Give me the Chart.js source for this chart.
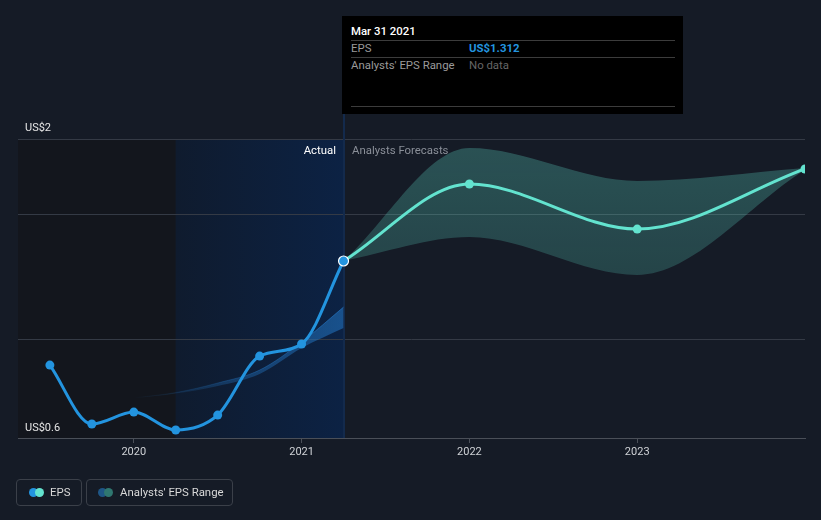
<!DOCTYPE html>
<html lang="en">
<head>
<meta charset="UTF-8">
<title>EPS Chart</title>
<script src="https://cdn.jsdelivr.net/npm/chart.js"></script>
<style>
  body { margin: 0; background: #151b26; font-family: Roboto, "Open Sans", sans-serif; }
  #wrap { position: relative; width: 821px; height: 520px; }
  canvas { position: absolute; left: 0; top: 0; }
  .tip { position: absolute; left: 342px; top: 16px; width: 341px; height: 98px; background: #000; font-size: 11.4px; }
  .tip .row { position: absolute; left: 9px; right: 8px; height: 16px; line-height: 16px; }
  .tip .sep { position: absolute; left: 9px; right: 8px; height: 1px; background: #3c3c3c; }
  .tip .lab { color: #9a9a9a; }
  .tip .val { position: absolute; left: 118px; top: 0; }
  .legend { position: absolute; top: 479px; height: 27px; border: 1px solid #3b4049; border-radius: 4px; box-sizing: border-box; font-size: 11.4px; color: #d8d8d8; line-height: 25px; }
  .dot { position: absolute; top: 8px; width: 9px; height: 9px; border-radius: 50%; }
</style>
</head>
<body>
<div id="wrap">
  <canvas id="eps-chart" width="821" height="520"></canvas>

  <!-- hovered point details -->
  <div class="tip">
    <div class="row" style="top:7px;color:#fff;font-weight:500">Mar 31 2021</div>
    <div class="sep" style="top:24px"></div>
    <div class="row lab" style="top:24px">EPS<span class="val" style="color:#2394df;font-weight:700">US$1.312</span></div>
    <div class="sep" style="top:41px"></div>
    <div class="row lab" style="top:41px">Analysts' EPS Range<span class="val" style="color:#666">No data</span></div>
    <div class="sep" style="top:90px"></div>
  </div>

  <div class="legend" style="left:16px;width:66px">
    <span class="dot" style="left:12px;background:#2394df"></span>
    <span class="dot" style="left:18px;background:#63e3cf"></span>
    <span style="position:absolute;left:33px">EPS</span>
  </div>
  <div class="legend" style="left:86px;width:147px">
    <span class="dot" style="left:11px;background:#1e5686"></span>
    <span class="dot" style="left:17px;background:#2f7770"></span>
    <span style="position:absolute;left:33px">Analysts' EPS Range</span>
  </div>
</div>

<script>
// data (x in decimal years)
const actualDates = [2019.5, 2019.75, 2020.0, 2020.25, 2020.5, 2020.75, 2021.0, 2021.25];
const epsActual = [0.725, 0.393, 0.460, 0.359, 0.443, 0.776, 0.844, 1.312];

const pastRangeDates = [2020.0, 2020.25, 2020.5, 2020.75, 2021.0, 2021.25];
const pastRangeHigh = [0.540, 0.570, 0.624, 0.697, 0.855, 1.052];
const pastRangeLow = [0.538, 0.565, 0.607, 0.675, 0.821, 0.934];

const forecastDates = [2021.25, 2022.0, 2023.0, 2024.0];
const epsForecast = [1.312, 1.746, 1.492, 1.831];
const forecastHigh = [1.312, 1.949, 1.763, 1.836];
const forecastLow = [1.312, 1.447, 1.233, 1.826];

const xTickValues = [2020, 2021, 2022, 2023];
const yGridValues = [2.0, 1.577, 0.872];
const yLabels = ['US$2', 'US$0.6'];

const X_MIN = 2019.31, X_MAX = 2024.0;
const Y_MIN = 0.314, Y_MAX = 2.0;
const lastActual = actualDates[actualDates.length - 1];

const zip = (xs, ys) => xs.map((x, i) => ({ x: x, y: ys[i] }));

const regionsPlugin = {
    id: 'regions',
    beforeDraw(chart) {
        const { ctx, chartArea: a, scales } = chart;
        const xEnd = scales.x.getPixelForValue(lastActual);
        const xStart = scales.x.getPixelForValue(lastActual - 1);
        ctx.save();
        ctx.fillStyle = '#13161d';
        ctx.fillRect(a.left, a.top, xStart - a.left, a.bottom - a.top);
        const g = ctx.createLinearGradient(xStart, 0, xEnd, 0);
        g.addColorStop(0, '#0f1b2e');
        g.addColorStop(1, '#0c2244');
        ctx.fillStyle = g;
        ctx.fillRect(xStart, a.top, xEnd - xStart, a.bottom - a.top);
        ctx.restore();
    },
    beforeDatasetsDraw(chart) {
        const { ctx, chartArea: a, scales } = chart;
        const xEnd = Math.round(scales.x.getPixelForValue(lastActual));
        ctx.save();
        ctx.strokeStyle = '#132a4c';
        ctx.lineWidth = 2;
        ctx.beginPath();
        ctx.moveTo(xEnd, 114);
        ctx.lineTo(xEnd, a.bottom);
        ctx.stroke();

        ctx.font = '11.4px Roboto';
        ctx.textBaseline = 'middle';
        ctx.textAlign = 'right';
        ctx.fillStyle = '#ffffff';
        ctx.fillText('Actual', xEnd - 8, a.top + 12);
        ctx.textAlign = 'left';
        ctx.fillStyle = '#8a8f98';
        ctx.fillText('Analysts Forecasts', xEnd + 8, a.top + 12);

        // y labels at top and bottom of the value range
        ctx.font = '11px Roboto';
        ctx.fillStyle = '#e6e6e6';
        ctx.textBaseline = 'alphabetic';
        ctx.fillText(yLabels[0], a.left + 7, a.top - 8);
        ctx.fillText(yLabels[1], a.left + 7, a.bottom - 7);
        ctx.restore();
    }
};

function hGradient(ctx, stops) {
    const a = ctx.chart.chartArea;
    if (!a) return stops[stops.length - 1][1];
    const x = ctx.chart.scales.x;
    const g = ctx.chart.ctx.createLinearGradient(x.getPixelForValue(2020.0), 0, x.getPixelForValue(lastActual), 0);
    stops.forEach(s => g.addColorStop(s[0], s[1]));
    return g;
}

function vGradient(ctx) {
    const a = ctx.chart.chartArea;
    if (!a) return 'rgba(99,227,207,0.22)';
    const g = ctx.chart.ctx.createLinearGradient(0, a.top, 0, a.bottom);
    g.addColorStop(0, 'rgba(99,227,207,0.28)');
    g.addColorStop(1, 'rgba(99,227,207,0.12)');
    return g;
}

const ctx = document.getElementById('eps-chart').getContext('2d');
new Chart(ctx, {
    type: 'line',
    data: {
        datasets: [
            {
                label: 'EPS',
                data: zip(actualDates, epsActual),
                borderColor: '#2394df',
                backgroundColor: '#2394df',
                borderWidth: 3,
                cubicInterpolationMode: 'monotone',
                pointRadius: actualDates.map((d, i) => i === actualDates.length - 1 ? 5 : 4.5),
                pointBorderColor: actualDates.map((d, i) => i === actualDates.length - 1 ? '#ffffff' : '#2394df'),
                pointBorderWidth: actualDates.map((d, i) => i === actualDates.length - 1 ? 1.2 : 0),
                pointBackgroundColor: '#2394df',
                fill: false
            },
            {
                label: 'EPS Forecast',
                data: zip(forecastDates, epsForecast),
                borderColor: '#63e3cf',
                backgroundColor: '#63e3cf',
                borderWidth: 3,
                cubicInterpolationMode: 'monotone',
                pointRadius: forecastDates.map((d, i) => i === 0 ? 0 : 4.5),
                pointBorderWidth: 0,
                fill: false,
                clip: 0
            },
            {
                label: 'Past Range High',
                data: zip(pastRangeDates, pastRangeHigh),
                borderColor: c => hGradient(c, [[0, 'rgba(35,120,200,0)'], [1, 'rgba(35,120,200,0.6)']]),
                backgroundColor: c => hGradient(c, [[0, 'rgba(35,120,200,0)'], [0.5, 'rgba(35,120,200,0.35)'], [1, 'rgba(35,120,200,0.55)']]),
                borderWidth: 1,
                cubicInterpolationMode: 'monotone',
                pointRadius: 0,
                fill: '+1'
            },
            {
                label: 'Past Range Low',
                data: zip(pastRangeDates, pastRangeLow),
                borderColor: 'rgba(0,0,0,0)',
                borderWidth: 0,
                cubicInterpolationMode: 'monotone',
                pointRadius: 0,
                fill: false
            },
            {
                label: 'Forecast High',
                data: zip(forecastDates, forecastHigh),
                borderColor: 'rgba(0,0,0,0)',
                backgroundColor: vGradient,
                borderWidth: 0,
                cubicInterpolationMode: 'monotone',
                pointRadius: 0,
                fill: '+1'
            },
            {
                label: 'Forecast Low',
                data: zip(forecastDates, forecastLow),
                borderColor: 'rgba(0,0,0,0)',
                borderWidth: 0,
                cubicInterpolationMode: 'monotone',
                pointRadius: 0,
                fill: false
            }
        ]
    },
    options: {
        responsive: false,
        animation: false,
        events: [],
        layout: { padding: { left: 18, right: 16, top: 139, bottom: 52 } },
        plugins: { legend: { display: false }, tooltip: { enabled: false } },
        scales: {
            x: {
                type: 'linear',
                min: X_MIN,
                max: X_MAX,
                afterBuildTicks: s => { s.ticks = xTickValues.map(v => ({ value: v })); },
                afterFit: s => { s.height = 30; },
                ticks: {
                    color: '#cfd2d6',
                    font: { family: 'Roboto', size: 11 },
                    padding: 3,
                    maxRotation: 0,
                    callback: v => String(v)
                },
                grid: { drawOnChartArea: false, drawTicks: true, tickLength: 5, color: '#4a4f58' },
                border: { color: '#4a4f58' }
            },
            y: {
                min: Y_MIN,
                max: Y_MAX,
                afterBuildTicks: s => { s.ticks = yGridValues.map(v => ({ value: v })); },
                afterFit: s => { s.width = 0; },
                ticks: { display: false },
                grid: { color: '#343a45', drawTicks: false },
                border: { display: false }
            }
        }
    },
    plugins: [regionsPlugin]
});
</script>
</body>
</html>
